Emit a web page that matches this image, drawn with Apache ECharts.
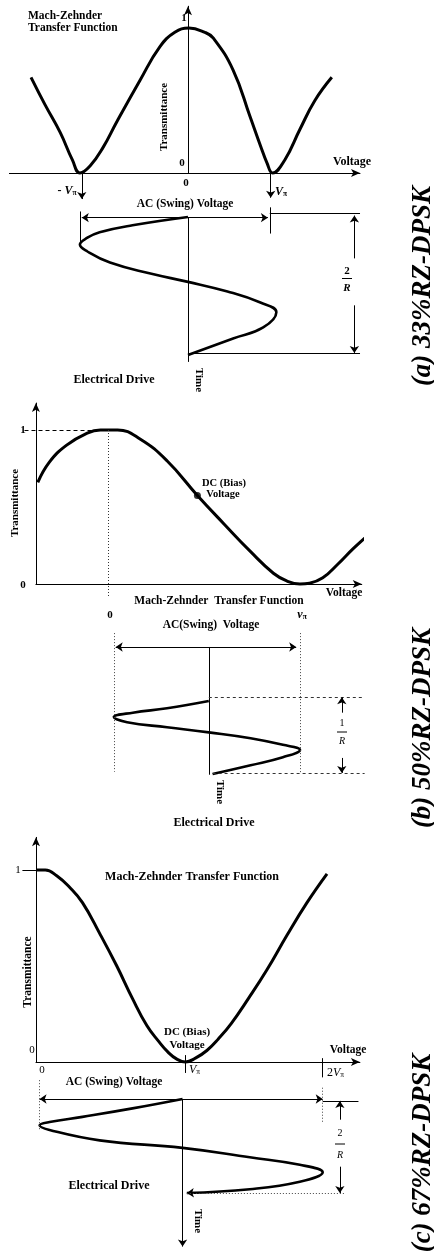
<!DOCTYPE html>
<html>
<head>
<meta charset="utf-8">
<script src="https://cdn.jsdelivr.net/npm/echarts@6/dist/echarts.min.js"></script>
<style>
  html, body { margin: 0; padding: 0; background: #fff; }
  #chart { width: 434px; height: 1255px; }
</style>
</head>
<body>
<div id="chart"></div>
<script>
// ---- data ----
// voltage in units of V-pi, transmittance 0..1, time in drive periods (downwards)

// (a) 33% RZ-DPSK
const mzA_volt  = [-1.67, -1.52, -1.36, -1.23, -1.15, -1.04, -0.90, -0.76, -0.51, -0.30, -0.14, 0.01, 0.18, 0.27, 0.48, 0.66, 0.77, 0.84, 0.90, 1.03, 1.19, 1.35, 1.53];
const mzA_trans = [0.66, 0.47, 0.28, 0.09, 0.00, 0.05, 0.18, 0.35, 0.64, 0.87, 0.97, 1.00, 0.97, 0.93, 0.71, 0.39, 0.19, 0.07, 0.00, 0.09, 0.30, 0.50, 0.66];
const driveA_volt = [0, -0.59, -0.94, -1.07, -1.15, -1.07, -0.83, -0.40, 0, 0.42, 0.77, 0.94, 0.80, 0.48, 0];
const driveA_time = [0, 0.06, 0.11, 0.15, 0.20, 0.25, 0.33, 0.41, 0.47, 0.54, 0.62, 0.69, 0.80, 0.88, 1.00];

// (b) 50% RZ-DPSK
const mzB_volt  = [-0.38, -0.32, -0.23, -0.12, -0.05, 0.04, 0.16, 0.30, 0.46, 0.60, 0.74, 0.86, 0.93, 1.00, 1.05, 1.12, 1.20, 1.28, 1.37];
const mzB_trans = [0.66, 0.79, 0.90, 0.98, 1.00, 1.00, 0.94, 0.80, 0.575, 0.39, 0.21, 0.07, 0.02, 0.00, 0.005, 0.04, 0.13, 0.23, 0.33];
const biasB = [0.46, 0.575];
const driveB_volt = [0.52, 0.30, 0.12, 0.02, 0.09, 0.30, 0.52, 0.74, 0.91, 1.00, 0.91, 0.74, 0.54];
const driveB_time = [0, 0.10, 0.16, 0.22, 0.29, 0.36, 0.43, 0.51, 0.60, 0.67, 0.77, 0.88, 1.00];

// (c) 67% RZ-DPSK
const mzC_volt  = [-0.03, 0.03, 0.11, 0.20, 0.29, 0.41, 0.53, 0.64, 0.74, 0.82, 0.89, 0.95, 1.01, 1.08, 1.16, 1.24, 1.33, 1.45, 1.58, 1.72, 1.86, 2.00];
const mzC_trans = [1.00, 1.00, 0.97, 0.91, 0.83, 0.67, 0.50, 0.33, 0.19, 0.11, 0.05, 0.015, 0.00, 0.02, 0.06, 0.12, 0.20, 0.33, 0.48, 0.66, 0.83, 0.98];
const driveC_volt = [0.99, 0.64, 0.29, 0.06, -0.01, 0.06, 0.41, 0.99, 1.46, 1.81, 1.97, 1.81, 1.46, 1.02];
const driveC_time = [0, 0.10, 0.19, 0.245, 0.28, 0.33, 0.44, 0.52, 0.62, 0.70, 0.78, 0.88, 0.96, 1.00];

// annotation segments [v1, y1, v2, y2]
const arrowsA  = [[-1.13, -0.32, -1.13, -0.13], [0.88, -0.32, 0.88, -0.14], [1.77, 0.30, 1.77, -0.01], [1.77, 0.64, 1.77, 0.985]];
const swingA   = [[-1.13, 0.005, 0.85, 0.005]];
const linesA   = [[-1.15, -0.04, -1.15, 0.20], [0.87, -0.07, 0.87, 0.12], [0.87, -0.03, 1.83, -0.03], [0, 0.99, 1.83, 0.99], [0, 0, 0, 1.05]];

const dashedTopB = [[-0.45, 1, 0, 1]];
const dottedTopB = [[-0.01, 1, -0.01, -0.08]];
const linesB   = [[0.52, -0.74, 0.52, 1.01]];
const swingB   = [[0.03, -0.74, 0.98, -0.74]];
const dottedB  = [[0.02, -0.93, 0.02, 0.97], [1.0, -0.93, 1.0, 0.99]];
const dashedB  = [[0.52, -0.055, 1.33, -0.055], [0.54, 0.99, 1.34, 0.99]];
const arrowsB  = [[1.22, 0.16, 1.22, -0.05], [1.22, 0.78, 1.22, 0.985]];

const ticksC   = [[-0.13, 1, -0.035, 1], [1.01, 0.036, 1.01, -0.057], [1.97, 0.02, 1.97, -0.08]];
const arrowsC  = [[0.99, 0, 0.99, 1.57], [2.09, 0.22, 2.09, 0.02], [2.09, 0.72, 2.09, 1.0], [1.10, 0.995, 1.02, 1.0]];
const swingC   = [[-0.01, 0, 1.97, 0]];
const linesC   = [[1.97, 0.02, 2.22, 0.02]];
const dottedC  = [[-0.01, -0.2, -0.01, 0.33], [1.97, -0.12, 1.97, 0.25], [1.02, 1.0, 2.13, 1.0]];

// ---- chart ----
const chart = echarts.init(document.getElementById('chart'));
const SERIF = '"Liberation Serif", "Times New Roman", serif';
const zip = (xs, ys) => xs.map((x, i) => [x, ys[i]]);

function grid(left, top, width, height) {
  return { left, top, width, height, containLabel: false, outerBoundsMode: 'none' };
}
function plotAxis(gi, min, max, onZero) {
  return {
    type: 'value', gridIndex: gi, min, max,
    axisLine: { show: true, onZero, symbol: ['none', 'arrow'], symbolSize: [6, 9], lineStyle: { color: '#000', width: 1 } },
    axisTick: { show: false }, axisLabel: { show: false }, splitLine: { show: false }
  };
}
function hiddenAxis(gi, min, max, inverse) {
  return { type: 'value', gridIndex: gi, min, max, inverse: !!inverse, show: false, splitLine: { show: false } };
}
function curve(gi, data, width) {
  return {
    type: 'line', xAxisIndex: gi, yAxisIndex: gi, data, smooth: 0.45, symbol: 'none',
    clip: false, silent: true, lineStyle: { color: '#000', width }
  };
}
function segments(gi, list, symbol, type, color) {
  return {
    type: 'line', xAxisIndex: gi, yAxisIndex: gi, data: [], clip: false, silent: true,
    markLine: {
      silent: true, symbol, symbolSize: 7, animation: false, label: { show: false },
      lineStyle: { color: color || '#000', width: 1, type: type || 'solid' },
      emphasis: { disabled: true },
      data: list.map(s => [{ coord: [s[0], s[1]] }, { coord: [s[2], s[3]] }])
    }
  };
}

const NONE = ['none', 'none'], END = ['none', 'arrow'], BOTH = ['arrow', 'arrow'];

function txt(text, x, y, size, o) {
  o = o || {};
  const font = (o.italic ? 'italic ' : '') + (o.bold === false ? '' : 'bold ') + size + 'px ' + SERIF;
  return {
    type: 'text', x, y, rotation: o.rot || 0, silent: true,
    style: { text, fill: '#000', font, textAlign: o.align || 'center', textVerticalAlign: 'middle', rich: o.rich }
  };
}
function bar(x1, x2, y) {
  return { type: 'line', silent: true, shape: { x1, y1: y, x2, y2: y }, style: { stroke: '#000', lineWidth: 1 } };
}
function vpiRich(bold, size) {
  const w = bold ? 'bold' : 'normal';
  return {
    n: { fontFamily: SERIF, fontSize: size, fontWeight: w },
    v: { fontFamily: SERIF, fontSize: size, fontWeight: w, fontStyle: 'italic' },
    p: { fontFamily: SERIF, fontSize: size * 0.62, fontWeight: w, padding: [5, 0, 0, 0] }
  };
}
const UP = Math.PI / 2, DOWN = -Math.PI / 2;

const graphic = [
  // (a)
  txt('Mach-Zehnder', 28, 16.5, 11.5, { align: 'left' }),
  txt('Transfer Function', 28, 28.5, 11.5, { align: 'left' }),
  txt('1', 184, 18, 11),
  txt('0', 182, 163, 11),
  txt('0', 186, 183, 11),
  txt('Transmittance', 164, 117, 11, { rot: UP }),
  txt('Voltage', 352, 162, 12),
  txt('{n|- }{v|V}{p|π}', 67, 191, 12, { rich: vpiRich(true, 12) }),
  txt('{v|V}{p|π}', 275, 192, 12, { align: 'left', rich: vpiRich(true, 12) }),
  txt('AC (Swing) Voltage', 185, 204, 11.5),
  txt('2', 347, 271, 11), bar(342, 352, 278.5), txt('R', 347, 288, 11, { italic: true }),
  txt('Electrical Drive', 114, 380, 12),
  txt('Time', 199, 380, 11, { rot: DOWN }),
  txt('(a) 33%RZ-DPSK', 423, 286, 27, { italic: true, rot: UP }),
  // (b)
  txt('1', 23, 430, 11),
  txt('0', 23, 585, 11),
  txt('Transmittance', 15, 503, 11, { rot: UP }),
  txt('DC (Bias)', 224, 483, 10.5),
  txt('Voltage', 223, 494, 10.5),
  txt('Voltage', 344, 593, 11.5),
  txt('Mach-Zehnder  Transfer Function', 219, 601, 11.5),
  txt('0', 110, 615, 11),
  txt('{v|v}{p|π}', 302, 615, 12, { rich: vpiRich(true, 12) }),
  txt('AC(Swing)  Voltage', 211, 625, 11.5),
  txt('1', 342, 723, 10, { bold: false }), bar(337, 347, 732), txt('R', 342, 741, 10, { bold: false, italic: true }),
  txt('Time', 220, 792, 11, { rot: DOWN }),
  txt('Electrical Drive', 214, 823, 12),
  txt('(b) 50%RZ-DPSK', 423, 728, 27, { italic: true, rot: UP }),
  // (c)
  txt('1', 18, 870, 11, { bold: false }),
  txt('Mach-Zehnder Transfer Function', 192, 877, 12),
  txt('Transmittance', 28, 972, 11.5, { rot: UP }),
  txt('DC (Bias)', 187, 1032, 11),
  txt('Voltage', 187, 1045, 11),
  txt('0', 32, 1050, 11, { bold: false }),
  txt('0', 42, 1070, 11, { bold: false }),
  txt('{v|V}{p|π}', 189, 1070, 12, { align: 'left', rich: vpiRich(false, 12) }),
  txt('{n|2}{v|V}{p|π}', 327, 1073, 12, { align: 'left', rich: vpiRich(false, 12) }),
  txt('Voltage', 348, 1050, 11.5),
  txt('AC (Swing) Voltage', 114, 1082, 11.5),
  txt('2', 340, 1133, 10, { bold: false }), bar(335, 345, 1144), txt('R', 340, 1155, 10, { bold: false, italic: true }),
  txt('Electrical Drive', 109, 1186, 12),
  txt('Time', 198, 1221, 11, { rot: DOWN }),
  txt('(c) 67%RZ-DPSK', 423, 1153, 27, { italic: true, rot: UP })
];

chart.setOption({
  backgroundColor: '#fff',
  animation: false,
  grid: [
    grid(9.4, 6.25, 350.6, 166.75),     // 0 (a) transfer function
    grid(0, 161.8, 376, 220.8),         // 1 (a) electrical drive
    grid(35.9, 403.05, 325.85, 180.95), // 2 (b) transfer function
    grid(15, 628, 361, 153.3),          // 3 (b) electrical drive
    grid(36, 837.36, 323.89, 224.64),   // 4 (c) transfer function
    grid(12.4, 1070.8, 357.5, 178.6),   // 5 (c) electrical drive
    grid(15, 399.2, 361, 215.6),        // 6 (b) transfer-function guides (same scale as 2, wider range)
    grid(12.4, 831.6, 357.5, 268.8)     // 7 (c) transfer-function guides (same scale as 4, wider range)
  ],
  xAxis: [
    plotAxis(0, -1.9, 1.83, true),
    hiddenAxis(1, -2.0, 2.0),
    plotAxis(2, -0.39, 1.325, true),
    hiddenAxis(3, -0.5, 1.4),
    plotAxis(4, -0.035, 2.23, true),
    hiddenAxis(5, -0.2, 2.3),
    hiddenAxis(6, -0.5, 1.4),
    hiddenAxis(7, -0.2, 2.3)
  ],
  yAxis: [
    plotAxis(0, 0, 1.15, true),
    hiddenAxis(1, -0.4, 1.2, true),
    plotAxis(2, 0, 1.175, false),
    hiddenAxis(3, -1, 1.1, true),
    plotAxis(4, 0, 1.17, false),
    hiddenAxis(5, -0.3, 1.6, true),
    hiddenAxis(6, -0.2, 1.2),
    hiddenAxis(7, -0.2, 1.2)
  ],
  series: [
    curve(0, zip(mzA_volt, mzA_trans), 3),
    curve(1, zip(driveA_volt, driveA_time), 2.6),
    segments(1, arrowsA, END),
    segments(1, swingA, BOTH),
    segments(1, linesA, NONE),

    curve(2, zip(mzB_volt, mzB_trans), 3),
    {
      type: 'scatter', xAxisIndex: 2, yAxisIndex: 2, data: [biasB], symbolSize: 7,
      itemStyle: { color: '#000' }, silent: true
    },
    segments(6, dashedTopB, NONE, [4, 3]),
    segments(6, dottedTopB, NONE, [1, 2], '#333'),
    curve(3, zip(driveB_volt, driveB_time), 2.6),
    segments(3, linesB, NONE),
    segments(3, swingB, BOTH),
    segments(3, dottedB, NONE, [1, 2], '#444'),
    segments(3, dashedB, NONE, [3, 3], '#333'),
    segments(3, arrowsB, END),

    curve(4, zip(mzC_volt, mzC_trans), 3),
    segments(7, ticksC, NONE),
    curve(5, zip(driveC_volt, driveC_time), 2.6),
    segments(5, arrowsC, END),
    segments(5, swingC, BOTH),
    segments(5, linesC, NONE),
    segments(5, dottedC, NONE, [1, 2], '#444')
  ],
  graphic
});
</script>
</body>
</html>
